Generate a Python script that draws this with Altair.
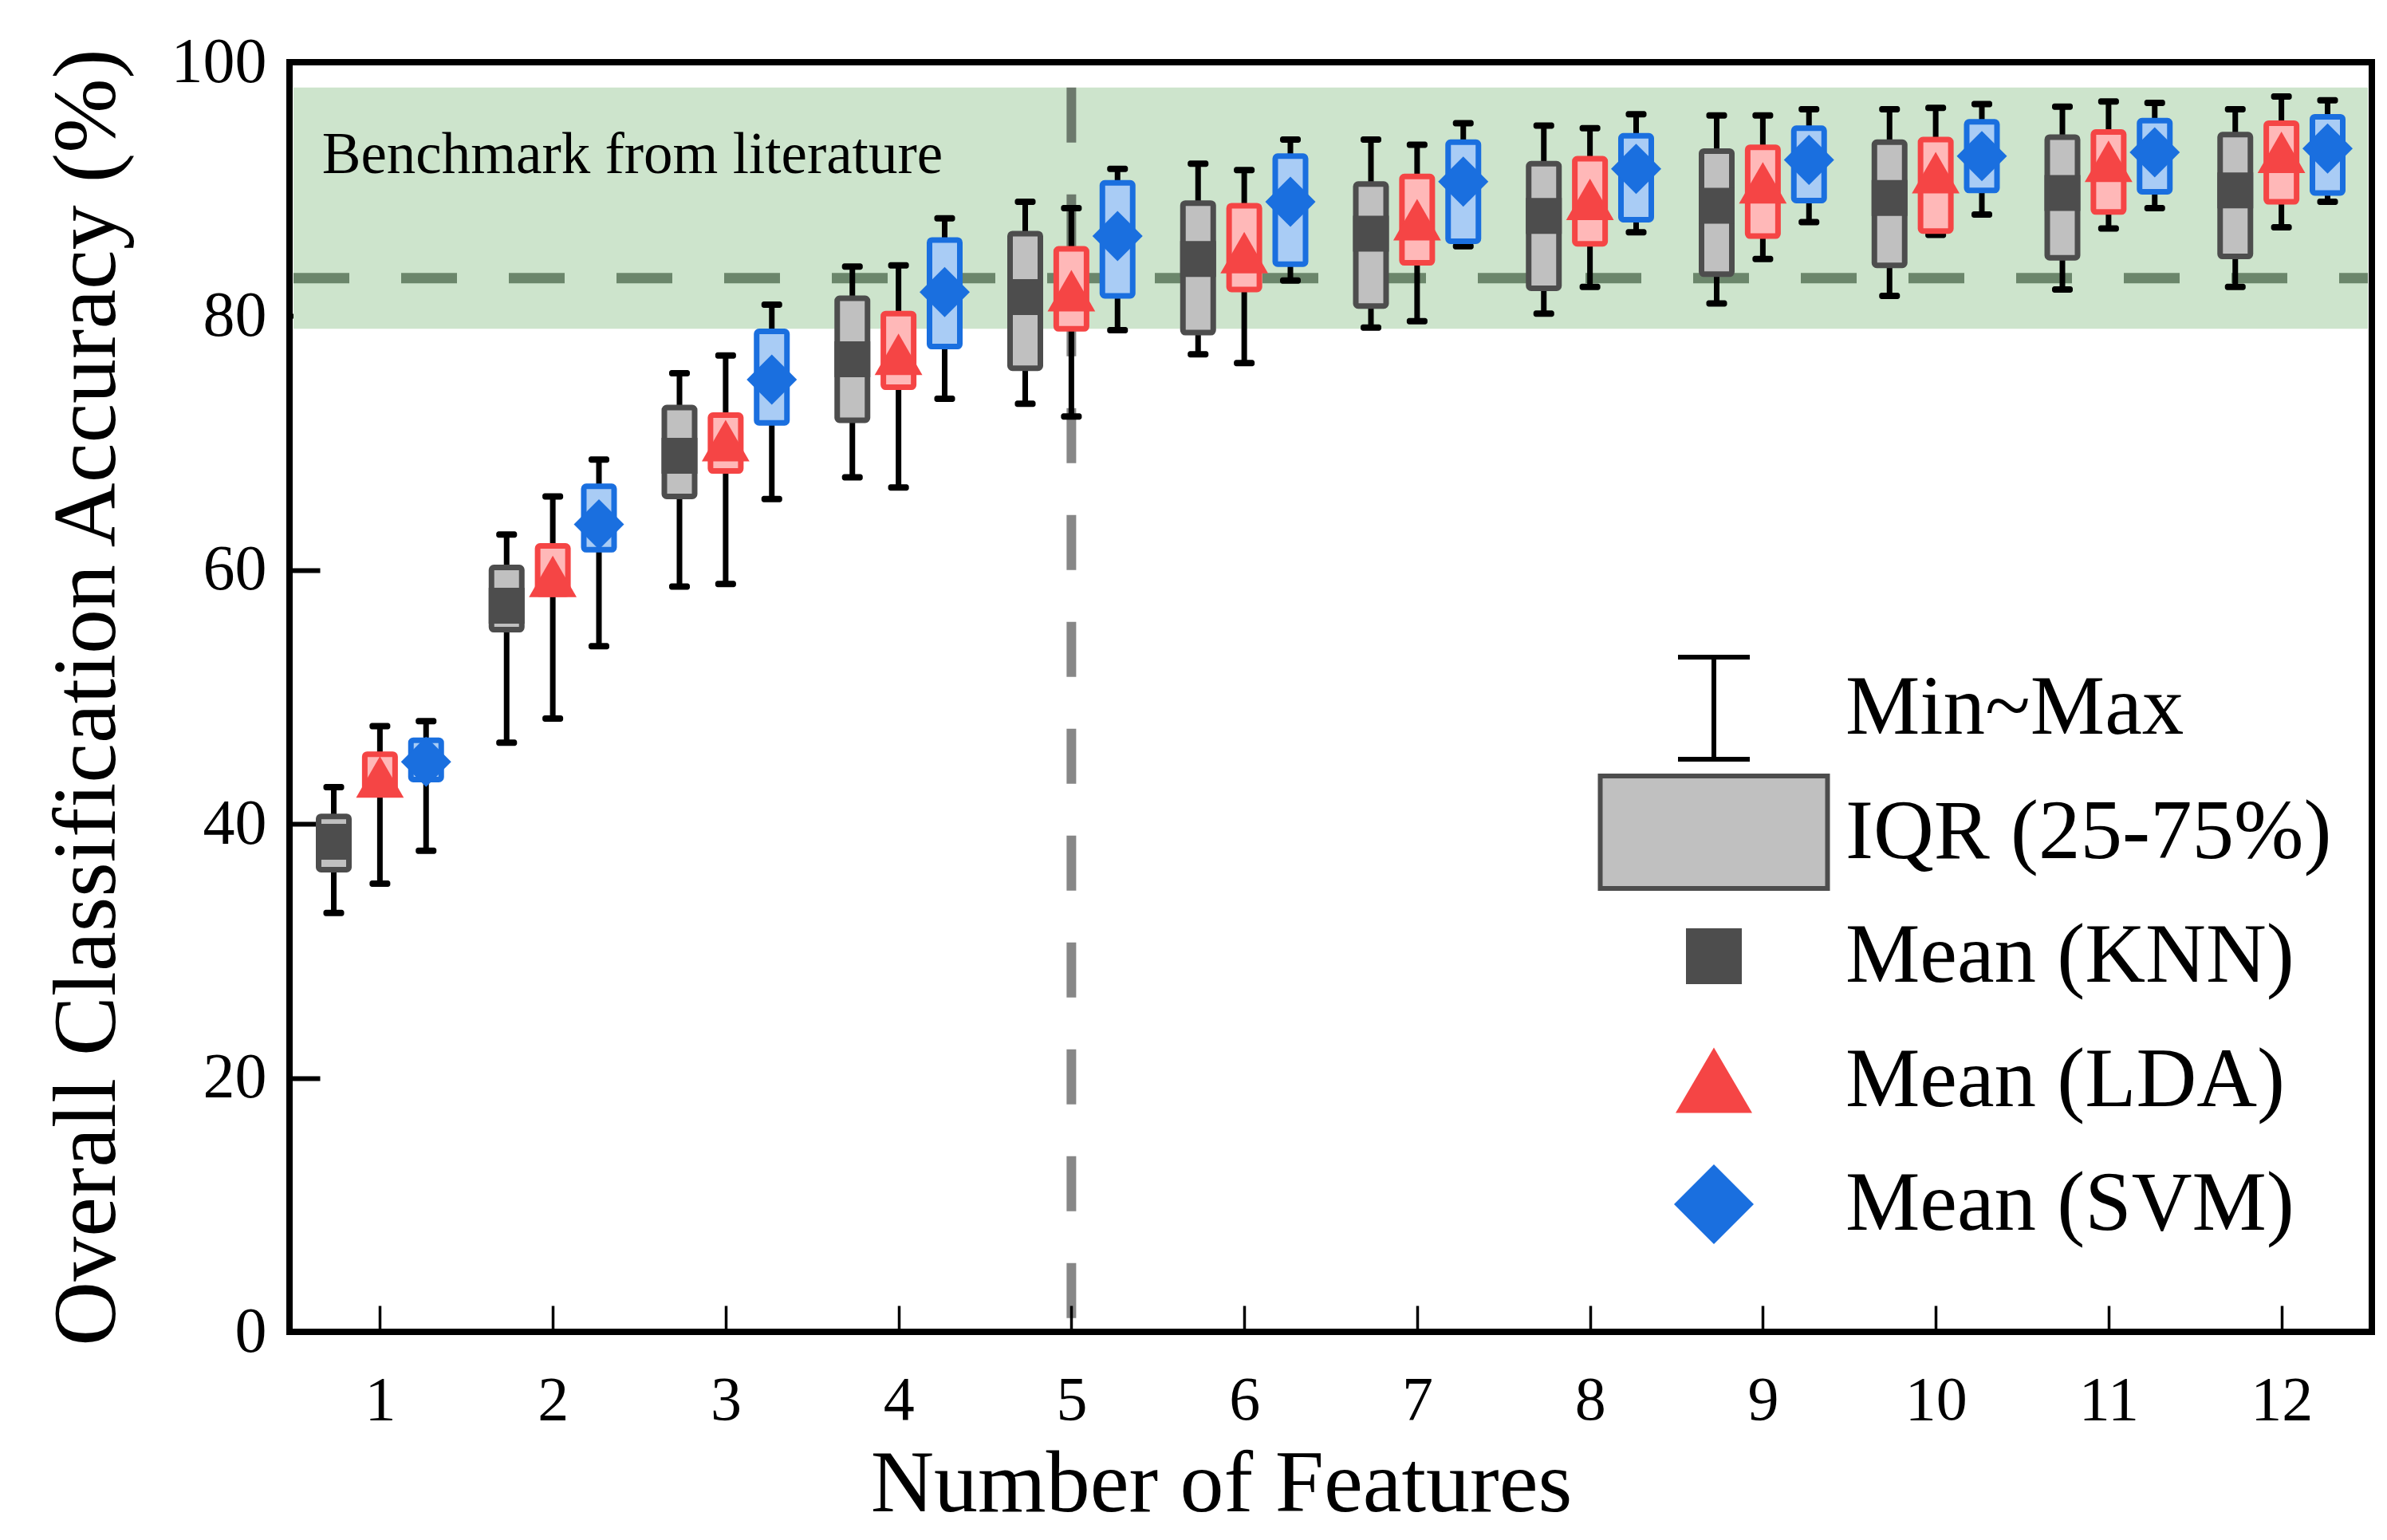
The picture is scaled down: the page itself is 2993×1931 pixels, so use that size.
import altair as alt
import pandas as pd

# ---------------- data ----------------
features = list(range(1, 13))

knn_min  = [33.0, 46.4, 58.7, 67.3, 73.1, 77.0, 79.1, 80.2, 81.0, 81.6, 82.1, 82.3]
knn_q1   = [36.4, 55.3, 65.8, 71.8, 75.9, 78.7, 80.8, 82.2, 83.3, 84.0, 84.6, 84.7]
knn_mean = [38.6, 57.2, 69.0, 76.6, 81.5, 84.5, 86.5, 87.9, 88.7, 89.3, 89.7, 89.9]
knn_q3   = [40.6, 60.2, 72.8, 81.4, 86.5, 88.9, 90.4, 92.0, 93.0, 93.7, 94.1, 94.3]
knn_max  = [42.9, 62.8, 75.5, 83.9, 89.0, 92.0, 93.9, 95.0, 95.8, 96.3, 96.5, 96.3]

lda_min  = [35.3, 48.3, 58.9, 66.5, 72.1, 76.3, 79.6, 82.3, 84.5, 86.4, 86.9, 87.0]
lda_q1   = [42.3, 58.1, 67.8, 74.4, 79.0, 82.1, 84.2, 85.7, 86.3, 86.7, 88.2, 89.0]
lda_mean = [43.7, 59.5, 70.2, 77.0, 82.0, 85.0, 87.6, 89.2, 90.5, 91.3, 92.2, 92.9]
lda_q3   = [45.5, 61.9, 72.2, 80.2, 85.3, 88.7, 91.0, 92.4, 93.3, 93.9, 94.5, 95.2]
lda_max  = [47.7, 65.8, 76.9, 84.0, 88.5, 91.5, 93.5, 94.8, 95.8, 96.4, 96.9, 97.3]

svm_min  = [37.9, 54.0, 65.6, 73.5, 78.9, 82.8, 85.5, 86.6, 87.4, 88.0, 88.5, 89.0]
svm_q1   = [43.5, 61.6, 71.6, 77.6, 81.6, 84.1, 85.9, 87.6, 89.1, 89.9, 89.8, 89.7]
svm_mean = [44.9, 63.6, 75.0, 81.9, 86.3, 89.0, 90.6, 91.6, 92.3, 92.6, 92.9, 93.2]
svm_q3   = [46.6, 66.6, 78.8, 86.0, 90.5, 92.6, 93.7, 94.2, 94.8, 95.3, 95.4, 95.7]
svm_max  = [48.1, 68.7, 80.9, 87.7, 91.6, 93.9, 95.2, 95.9, 96.3, 96.7, 96.8, 97.0]

benchmark_low = 79.0
benchmark_high = 98.0
benchmark_line = 83.0
selected_features = 5
benchmark_label = "Benchmark from literature"

legend_items = ["Min~Max", "IQR (25-75%)", "Mean (KNN)", "Mean (LDA)", "Mean (SVM)"]

# ---------------- styling ----------------
SERIF = "Liberation Serif"
X_DOMAIN = [0.5, 12.5]
Y_DOMAIN = [0, 100]
GROUP_SHIFT = {"KNN": -0.267, "LDA": 0.0, "SVM": 0.267}
STYLE = {
    "KNN": dict(fill="#c0c0c0", stroke="#4d4d4d", mean="#4d4d4d", shape="square", size=2025),
    "LDA": dict(fill="#ffb8b8", stroke="#f54545", mean="#f54545",
                shape="M0,-1L1.15,1L-1.15,1Z", size=2704),
    "SVM": dict(fill="#a9ccf5", stroke="#1a6fdf", mean="#1a6fdf", shape="diamond", size=3969),
}

series = {
    "KNN": (knn_min, knn_q1, knn_mean, knn_q3, knn_max),
    "LDA": (lda_min, lda_q1, lda_mean, lda_q3, lda_max),
    "SVM": (svm_min, svm_q1, svm_mean, svm_q3, svm_max),
}

XS = alt.Scale(domain=X_DOMAIN, nice=False, zero=False)
YS = alt.Scale(domain=Y_DOMAIN, nice=False, zero=False)

XAX = alt.Axis(
    values=features, format="d", title="Number of Features", titleFont=SERIF,
    titleFontSize=110, titleFontWeight="normal", titleColor="black", titleX=1168,
    titleY=257, titleBaseline="alphabetic", labelFont=SERIF, labelFontSize=78,
    labelColor="black", labelPadding=47, tickSize=33, tickWidth=3.5, tickColor="black",
    offset=-33, domain=False, grid=False, labelFlush=False, labelOverlap=False,
)
YAX = alt.Axis(
    values=[0, 20, 40, 60, 80, 100], format="d",
    title="Overall Classification Accuracy (%)",
    titleFont=SERIF, titleFontSize=112, titleFontWeight="normal", titleColor="black",
    titleX=-258, titleY=796, titleBaseline="alphabetic", labelFont=SERIF,
    labelFontSize=80, labelColor="black", labelPadding=29, tickSize=38, tickWidth=6,
    tickColor="black", offset=-38, domain=False, grid=False, labelFlush=False,
    labelOverlap=False,
)


def xenc(field):
    return alt.X(field, type="quantitative", scale=XS, axis=XAX)


def yenc(field):
    return alt.Y(field, type="quantitative", scale=YS, axis=YAX)


layers = []

# benchmark band
layers.append(
    alt.Chart(pd.DataFrame({"lo": [benchmark_low], "hi": [benchmark_high]}))
    .mark_rect(color="#cde4cc")
    .encode(x=alt.datum(X_DOMAIN[0]), x2=alt.datum(X_DOMAIN[1]), y=yenc("lo"), y2="hi")
)
# benchmark dashed line
layers.append(
    alt.Chart(pd.DataFrame({"b": [benchmark_line]}))
    .mark_rule(color="#6b866b", strokeWidth=13, strokeDash=[70, 65])
    .encode(x=alt.datum(X_DOMAIN[0]), x2=alt.datum(X_DOMAIN[1]), y=yenc("b"))
)
# vertical dashed line at the chosen number of features
layers.append(
    alt.Chart(pd.DataFrame({"f": [selected_features], "top": [benchmark_high], "bot": [0]}))
    .mark_rule(color="black", opacity=0.47, strokeWidth=12, strokeDash=[69, 65])
    .encode(x=xenc("f"), y=yenc("top"), y2="bot")
)
# annotation
layers.append(
    alt.Chart(pd.DataFrame({"t": [benchmark_label], "tx": [0.665], "ty": [91.3]}))
    .mark_text(align="left", baseline="alphabetic", font=SERIF, fontSize=73, color="black")
    .encode(x=xenc("tx"), y=yenc("ty"), text="t:N")
)

for clf, (vmin, q1, mean, q3, vmax) in series.items():
    df = pd.DataFrame({
        "feature": features, "vmin": vmin, "q1": q1, "mean": mean, "q3": q3, "vmax": vmax,
    })
    st = STYLE[clf]
    base = alt.Chart(df).transform_calculate(xpos=f"datum.feature + ({GROUP_SHIFT[clf]})")
    layers.append(
        base.mark_rule(color="black", strokeWidth=7)
        .encode(x=xenc("xpos"), y=yenc("vmin"), y2="vmax")
    )
    layers.append(
        base.mark_tick(orient="horizontal", color="black", size=26, thickness=8,
                       cornerRadius=3, opacity=1)
        .encode(x=xenc("xpos"), y=yenc("vmin"))
    )
    layers.append(
        base.mark_tick(orient="horizontal", color="black", size=26, thickness=8,
                       cornerRadius=3, opacity=1)
        .encode(x=xenc("xpos"), y=yenc("vmax"))
    )
    layers.append(
        base.mark_bar(orient="vertical", size=38, fill=st["fill"], stroke=st["stroke"],
                      strokeWidth=7, cornerRadius=3, opacity=1)
        .encode(x=xenc("xpos"), y=yenc("q1"), y2="q3")
    )
    layers.append(
        base.mark_point(filled=True, color=st["mean"], shape=st["shape"], size=st["size"],
                        opacity=1)
        .encode(x=xenc("xpos"), y=yenc("mean"))
    )

# legend (native Vega legend, no visible marks: positions are null)
legend_shapes = [
    "M-0.9,-1.28H0.9M0,-1.28V1.28M-0.9,1.28H0.9",
    "M-2.85,-1.41H2.85V1.41H-2.85Z",
    "M-0.7,-0.7H0.7V0.7H-0.7Z",
    "M0,-0.82L0.96,0.82L-0.96,0.82Z",
    "M0,-1L1,0L0,1L-1,0Z",
]
legend_fills = ["transparent", "#c0c0c0", "#4d4d4d", "#f54545", "#1a6fdf"]
legend_strokes = ["black", "#4d4d4d", "transparent", "transparent", "transparent"]

LEG = alt.Legend(
    orient="none", legendX=1638, legendY=735, title=None, direction="vertical",
    labelFont=SERIF, labelFontSize=105, labelColor="black", labelLimit=2000,
    symbolSize=10000, symbolStrokeWidth=6, clipHeight=150, rowPadding=5.5,
    symbolOffset=95, labelOffset=112, padding=0, symbolOpacity=1,
)
leg_df = pd.DataFrame({"item": legend_items, "lx": [None] * 5, "ly": [None] * 5})
layers.append(
    alt.Chart(leg_df)
    .mark_point(filled=True, opacity=1)
    .encode(
        x=xenc("lx"),
        y=yenc("ly"),
        shape=alt.Shape("item:N", sort=None,
                        scale=alt.Scale(domain=legend_items, range=legend_shapes), legend=LEG),
        fill=alt.Fill("item:N", sort=None,
                      scale=alt.Scale(domain=legend_items, range=legend_fills), legend=LEG),
        stroke=alt.Stroke("item:N", sort=None,
                          scale=alt.Scale(domain=legend_items, range=legend_strokes), legend=LEG),
    )
)

chart = (
    alt.layer(*layers)
    .properties(
        width=2611, height=1592,
        autosize=alt.AutoSizeParams(type="none"),
        padding={"left": 355, "top": 70, "right": 11, "bottom": 253},
        background="white",
    )
    .configure_view(stroke="black", strokeWidth=8)
)

chart.save("out.html", embed_options={"renderer": "svg", "actions": False})
